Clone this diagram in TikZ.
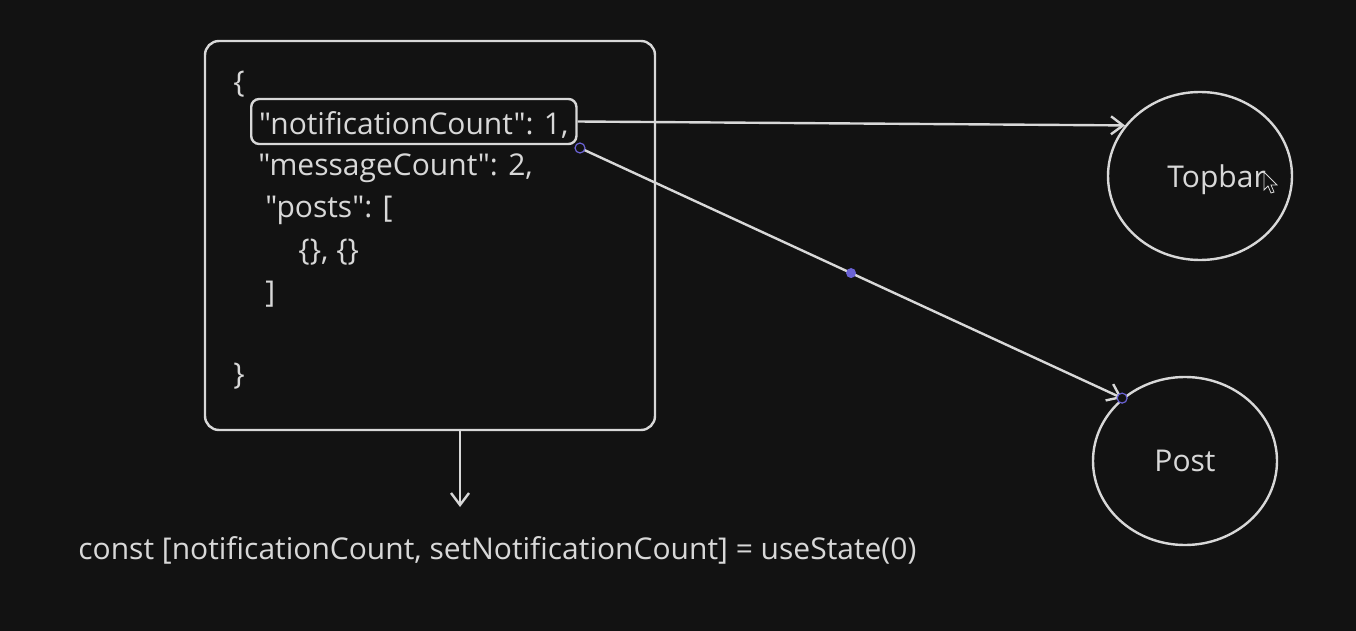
\documentclass[tikz,border=0pt]{standalone}
\usepackage{fontspec}
\setmainfont{Open Sans}[Ligatures=TeXOff]
\usetikzlibrary{arrows.meta, shapes.geometric, calc}
\definecolor{canvas}{HTML}{121212}
\definecolor{ink}{HTML}{D8D8D8}
\definecolor{handle}{HTML}{6A62D4}

\begin{document}
\begin{tikzpicture}[
  x=0.5pt, y=-0.5pt,
  font=\fontsize{15}{18}\selectfont,
  >={Straight Barb[length=6pt, width=9pt]},
  % Whole state object
  statebox/.style={
    rectangle, draw=ink, line width=1.2pt, rounded corners=7pt,
    minimum width=225pt, minimum height=194.5pt
  },
  % One line of the object
  jsonline/.style={anchor=base west, inner sep=0pt, text=ink},
  % Selected key
  keybox/.style={
    jsonline, draw=ink, line width=1.2pt, rounded corners=4pt,
    inner xsep=4pt, inner ysep=0pt, text height=18pt, text depth=4.5pt
  },
  % Components
  compnode/.style={
    ellipse, draw=ink, line width=1.2pt, text=ink,
    minimum width=92pt, minimum height=84pt
  },
  % Arrow styles
  flow/.style={->, draw=ink, line width=1.2pt},
  % Editor handles
  handledot/.style={circle, draw=handle, fill=canvas, line width=0.6pt, inner sep=0pt, minimum size=5pt},
  midhandle/.style={circle, fill=handle, inner sep=0pt, minimum size=5pt}
]

% === CANVAS ===
\fill[canvas] (0,0) rectangle (1356,631);
\useasboundingbox (0,0) rectangle (1356,631);

% === STATE OBJECT ===
\node[statebox] (state) at (430,235.5) {};
\node[jsonline] (open) at (233,93) {\{};
\node[keybox] (notif) at (250,135) {"notificationCount": 1,};
\node[jsonline] (msg) at (258,176) {"messageCount": 2,};
\node[jsonline] (posts) at (265,218) {"posts": [};
\node[jsonline] (items) at (298,260) {\{\}, \{\}};
\node[jsonline] (postsend) at (265,302) {]};
\node[jsonline] (close) at (233,384) {\}};

% === COMPONENTS ===
\node[compnode] (topbar) at (1200,176) {};
\node[jsonline] (topbartxt) at (1167,188) {Topbar};
\node[compnode] (post) at (1185,461) {Post};

% === HOOK LINE ===
\node[jsonline] (hook) at (78,559)
  {const [notificationCount, setNotificationCount] = useState(0)};
\coordinate (hookend) at (460,507);

% === ARROWS ===
\coordinate (postsrc) at (580,148);
\draw[flow] (notif.east) -- (topbar.146);
\draw[flow] (postsrc) -- (post.135);
\draw[flow] (state.south -| hookend) -- (hookend);

% === HANDLES ===
\node[handledot] (h1) at (postsrc) {};
\node[handledot] (h2) at (post.135) {};
\node[midhandle] (h3) at ($(postsrc)!0.5!(post.135)$) {};

% cursor
\filldraw[draw=ink, fill=canvas, line width=0.4pt]
  (1264,172) -- (1264,190) -- (1268,186) -- (1271,193) -- (1274,192)
  -- (1271,185) -- (1277,185) -- cycle;

\end{tikzpicture}
\end{document}
